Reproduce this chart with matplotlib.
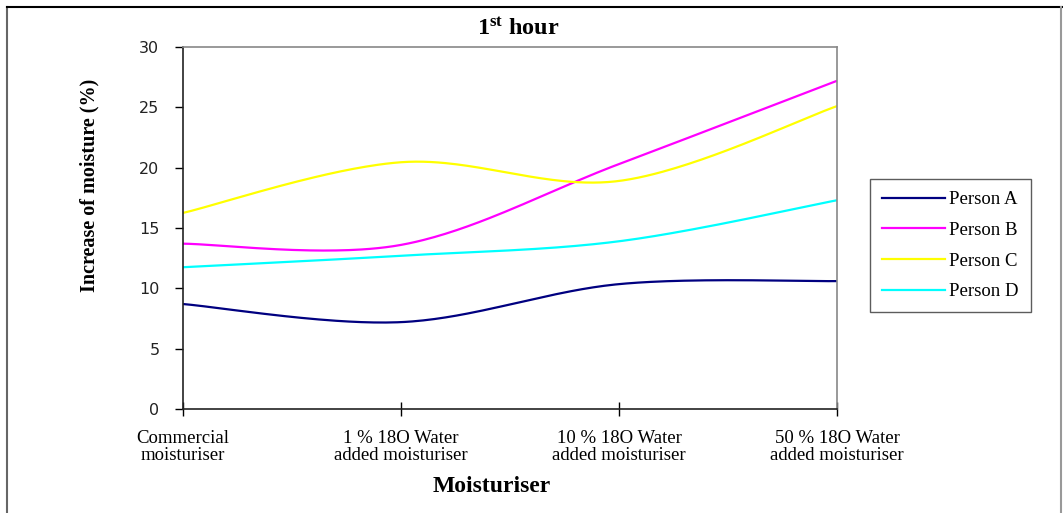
import numpy as np
import matplotlib
matplotlib.use("Agg")
import matplotlib.pyplot as plt
from matplotlib.lines import Line2D

plt.rcParams['mathtext.fontset'] = 'custom'
plt.rcParams['mathtext.rm'] = 'Liberation Serif'
plt.rcParams['mathtext.bf'] = 'Liberation Serif:bold'

categories = ["Commercial\nmoisturiser",
              "1 % 18O Water\nadded moisturiser",
              "10 % 18O Water\nadded moisturiser",
              "50 % 18O Water\nadded moisturiser"]
person_a = [8.7, 7.2, 10.35, 10.6]
person_b = [13.7, 13.6, 20.3, 27.2]
person_c = [16.25, 20.45, 18.9, 25.1]
person_d = [11.75, 12.7, 13.9, 17.3]
series_names = ["Person A", "Person B", "Person C", "Person D"]
series_colors = ["#000080", "#FF00FF", "#FFFF00", "#00FFFF"]


def smooth(xs, ys, n=60):
    """Cubic Bezier smoothing through every point (spreadsheet-style smoothed line)."""
    xs = np.asarray(xs, float)
    ys = np.asarray(ys, float)
    px = np.concatenate([[xs[0]], xs, [xs[-1]]])
    py = np.concatenate([[ys[0]], ys, [ys[-1]]])
    out_x, out_y = [], []
    t = np.linspace(0, 1, n)
    for i in range(1, len(px) - 2):
        p0 = np.array([px[i], py[i]])
        p3 = np.array([px[i + 1], py[i + 1]])
        c1 = p0 + (np.array([px[i + 1], py[i + 1]]) - np.array([px[i - 1], py[i - 1]])) / 6
        c2 = p3 - (np.array([px[i + 2], py[i + 2]]) - np.array([px[i], py[i]])) / 6
        b = ((1 - t) ** 3)[:, None] * p0 + (3 * (1 - t) ** 2 * t)[:, None] * c1 \
            + (3 * (1 - t) * t ** 2)[:, None] * c2 + (t ** 3)[:, None] * p3
        out_x.extend(b[:, 0])
        out_y.extend(b[:, 1])
    return np.array(out_x), np.array(out_y)


fig = plt.figure(figsize=(10.63, 5.13), dpi=100)
ax = fig.add_axes([0.1722, 0.2027, 0.6152, 0.7057])

x = np.arange(len(categories))
handles = []
for vals, name, col in zip([person_a, person_b, person_c, person_d], series_names, series_colors):
    sx, sy = smooth(x, vals)
    ax.plot(sx, sy, color=col, lw=1.6, solid_capstyle='butt')
    handles.append(Line2D([], [], color=col, lw=1.6, label=name))

ax.set_xlim(0, 3)
ax.set_ylim(0, 30)
ax.set_yticks(np.arange(0, 31, 5))
ax.set_xticks(x)
ax.set_xticklabels(categories, fontfamily='Liberation Serif', fontsize=13.5,
                   linespacing=1.05)
for lbl in ax.get_yticklabels():
    lbl.set_fontfamily('DejaVu Sans')
    lbl.set_fontsize(11.5)
    lbl.set_color('#222222')

ax.tick_params(axis='y', direction='out', length=6, width=1, pad=11)
ax.tick_params(axis='x', direction='inout', length=10, width=1, pad=10)

for side in ['left', 'bottom']:
    ax.spines[side].set_color('#222222')
    ax.spines[side].set_linewidth(1.2)
for side in ['top', 'right']:
    ax.spines[side].set_color('#888888')
    ax.spines[side].set_linewidth(1.2)

fig.text(0.488, 0.943, r"$\mathbf{1^{st}}$ hour", fontfamily='Liberation Serif',
         fontweight='bold', fontsize=17.5, ha='center', va='center')

ax.set_xlabel("Moisturiser", fontfamily='Liberation Serif', fontweight='bold',
              fontsize=17)
ax.xaxis.set_label_coords(0.472, -0.185)
ax.set_ylabel("Increase of moisture (%)", fontfamily='Liberation Serif',
              fontweight='bold', fontsize=14.5)
ax.yaxis.set_label_coords(-0.128, 0.619)

leg = fig.legend(handles=handles, loc='upper left', bbox_to_anchor=(0.818, 0.651),
                 prop={'family': 'Liberation Serif', 'size': 13.5},
                 frameon=True, fancybox=False, edgecolor='#333333',
                 handlelength=3.4, handletextpad=0.2, labelspacing=0.72,
                 borderpad=0.65, borderaxespad=0)
leg.get_frame().set_linewidth(1.0)

# Outer frame lines (left, top, right)
fig.add_artist(Line2D([0.0070, 0.0070], [0.0, 0.986], transform=fig.transFigure,
                      color='#666666', lw=1.5))
fig.add_artist(Line2D([0.0070, 0.999], [0.986, 0.986], transform=fig.transFigure,
                      color='black', lw=1.5))
fig.add_artist(Line2D([0.9985, 0.9985], [0.0, 0.986], transform=fig.transFigure,
                      color='#999999', lw=1.5))

fig.savefig("out.png", dpi=100)
